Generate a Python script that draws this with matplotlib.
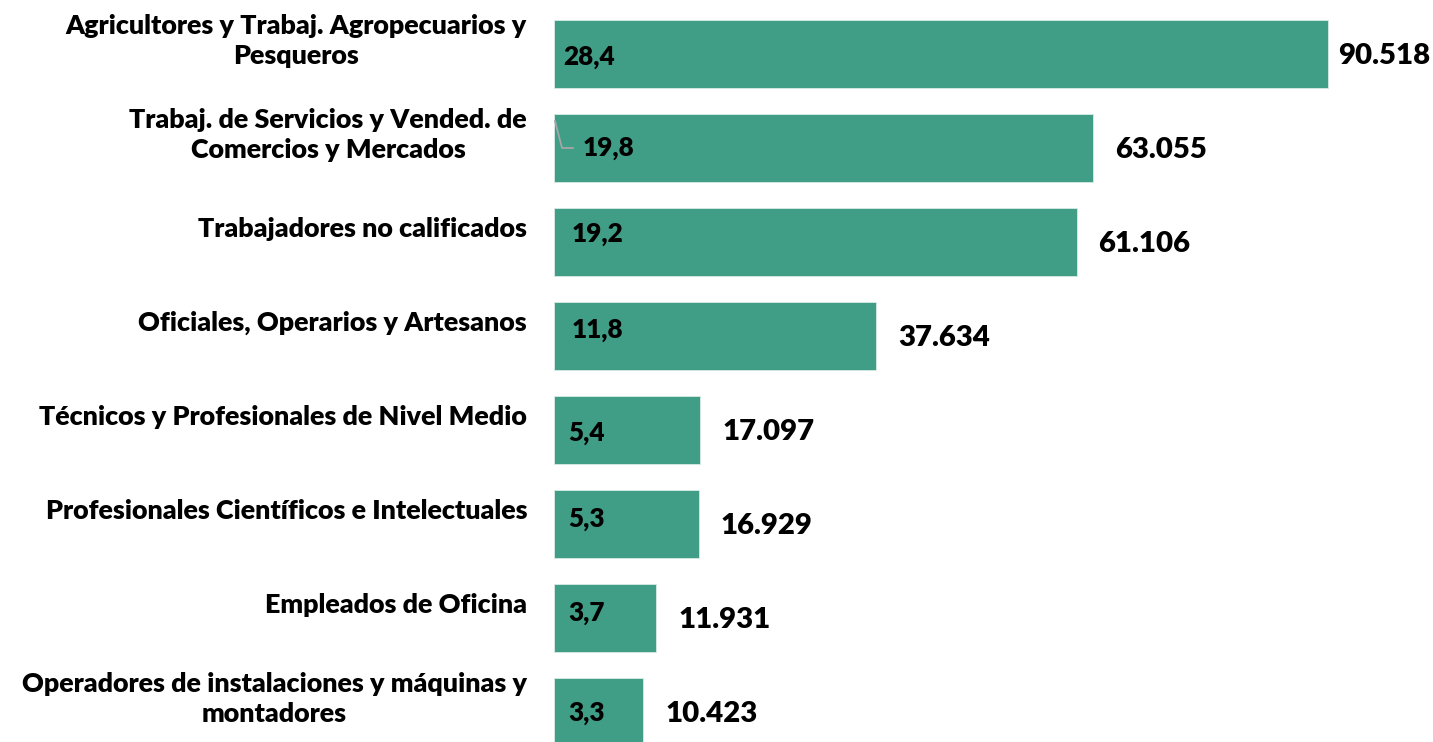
import matplotlib
matplotlib.use("Agg")
import matplotlib.pyplot as plt
import matplotlib.transforms as mtransforms

# Ocupados por grupo ocupacional
categorias = [
    "Agricultores y Trabaj. Agropecuarios y\nPesqueros",
    "Trabaj. de Servicios y Vended. de\nComercios y Mercados",
    "Trabajadores no calificados",
    "Oficiales, Operarios y Artesanos",
    "Técnicos y Profesionales de Nivel Medio",
    "Profesionales Científicos e Intelectuales",
    "Empleados de Oficina",
    "Operadores de instalaciones y máquinas y\nmontadores",
]
ocupados = [90518, 63055, 61106, 37634, 17097, 16929, 11931, 10423]
porcentaje = ["28,4", "19,8", "19,2", "11,8", "5,4", "5,3", "3,7", "3,3"]
ocupados_txt = ["90.518", "63.055", "61.106", "37.634", "17.097", "16.929", "11.931", "10.423"]

# label nudges (pixels, +down) as in the original layout
pct_dy = [3, 0, -8, -6, 3, -5, -5, 1]
pct_dx = [9, 29, 18, 18, 14, 14, 14, 14]

plt.rcParams["font.family"] = ["Lato", "DejaVu Sans"]
W, H = 1433, 742
fig = plt.figure(figsize=(W / 100, H / 100), dpi=100)
x0 = 554
ax = fig.add_axes([x0 / W, 0, (W - x0) / W, 1])

bar_color = "#409E87"
ypos = list(range(len(categorias)))
ax.barh(ypos, ocupados, height=0.72, color=bar_color, edgecolor="#d9ebe5", linewidth=0.6)

# scale: 774 px for 90518
px_per_unit = 774 / 90518
ax.set_xlim(0, (W - x0) / px_per_unit)
ax.set_ylim((H - 54) / 94, -54 / 94)
ax.axis("off")


def shifted(dx, dy):
    return mtransforms.offset_copy(ax.transData, fig=fig, x=dx * 0.72, y=-dy * 0.72, units="points")


for i, (cat, v, p, t) in enumerate(zip(categorias, ocupados, porcentaje, ocupados_txt)):
    ax.text(0, i, cat, transform=shifted(-27, -13), ha="right", va="center", multialignment="center",
            fontsize=19.4, fontweight="heavy", linespacing=1.3, color="black")
    ax.text(0, i, p, transform=shifted(pct_dx[i], pct_dy[i]), ha="left", va="center",
            fontsize=18.8, fontweight="heavy", color="black")
    gap = 10 if i == 0 else 22
    ax.text(v, i, t, transform=shifted(gap, 2), ha="left", va="center",
            fontsize=21.2, fontweight="heavy", color="black")

# leader line of the "19,8" label
bx, by = ax.transData.transform((0, 1))
ax.plot([bx + 1, bx + 8, bx + 19], [by + 27, by, by], color="#a6a6a6",
        linewidth=1.3, transform=None, clip_on=False)

fig.savefig("out.png", dpi=100)
